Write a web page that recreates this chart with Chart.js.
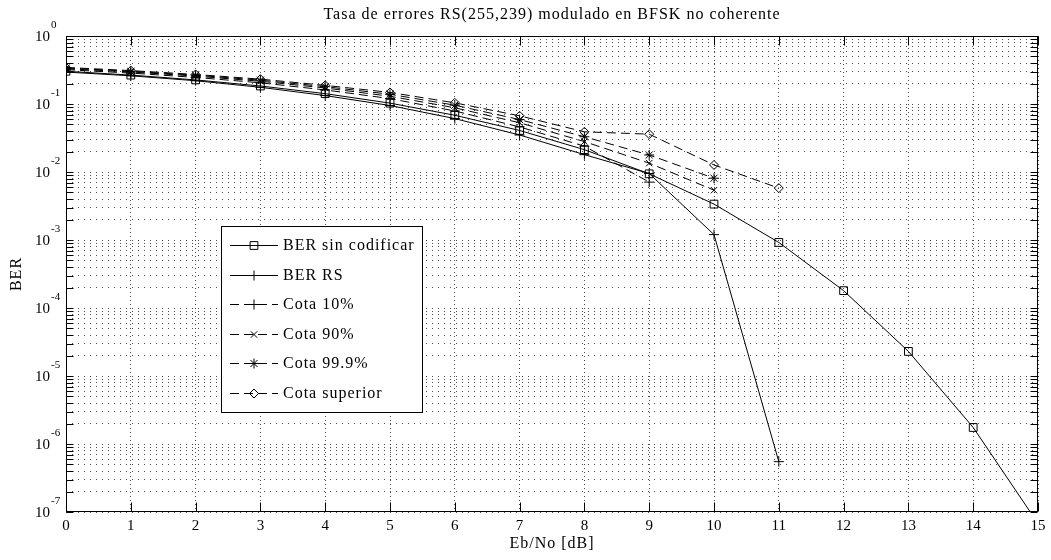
<!DOCTYPE html>
<html lang="es">
<head>
<meta charset="utf-8">
<title>Tasa de errores RS(255,239)</title>
<script src="https://cdn.jsdelivr.net/npm/chart.js@4.4.1/dist/chart.umd.min.js"></script>
<style>
  html, body { margin: 0; padding: 0; background: #fff; }
  canvas { display: block; }
</style>
</head>
<body>
<canvas id="berChart" width="1051" height="560"></canvas>
<script>
// Eb/No en dB
const ebNo = [0, 1, 2, 3, 4, 5, 6, 7, 8, 9, 10, 11, 12, 13, 14, 15];

// BER medida / acotada para cada Eb/No
const berSinCodificar = [0.303, 0.266, 0.226, 0.184, 0.142, 0.103, 0.0683, 0.0408, 0.0213, 0.0094, 0.00337, 0.00092, 0.00018, 2.3e-5, 1.75e-6, 6.8e-8];
const berRS = [0.295, 0.26, 0.22, 0.176, 0.133, 0.095, 0.061, 0.035, 0.018, 0.0095, 0.0012, 5.5e-7];
const cota10 = [0.32, 0.285, 0.246, 0.205, 0.161, 0.12, 0.079, 0.046, 0.024, 0.0071];
const cota90 = [0.33, 0.296, 0.257, 0.216, 0.172, 0.13, 0.088, 0.053, 0.028, 0.0135, 0.0054];
const cota999 = [0.338, 0.303, 0.265, 0.224, 0.18, 0.139, 0.096, 0.059, 0.033, 0.0178, 0.0081];
const cotaSuperior = [0.345, 0.31, 0.272, 0.232, 0.188, 0.148, 0.104, 0.067, 0.039, 0.036, 0.0127, 0.0058];

// marcas de los ejes
const xTicks = [0, 1, 2, 3, 4, 5, 6, 7, 8, 9, 10, 11, 12, 13, 14, 15];
const yDecadas = [1, 1e-1, 1e-2, 1e-3, 1e-4, 1e-5, 1e-6, 1e-7];
const yExponentes = ['0', '-1', '-2', '-3', '-4', '-5', '-6', '-7'];

const SERIF = "'Liberation Serif', 'Times New Roman', serif";
const DASH = [9, 5];

const series = [
  { label: 'BER sin codificar', valores: berSinCodificar, dash: [], marca: 'rect', radio: 5.5 },
  { label: 'BER RS', valores: berRS, dash: [], marca: 'cross', radio: 5 },
  { label: 'Cota 10%', valores: cota10, dash: DASH, marca: 'cross', radio: 5 },
  { label: 'Cota 90%', valores: cota90, dash: DASH, marca: 'crossRot', radio: 4.5 },
  { label: 'Cota 99.9%', valores: cota999, dash: DASH, marca: 'star', radio: 5 },
  { label: 'Cota superior', valores: cotaSuperior, dash: DASH, marca: 'rectRot', radio: 4.5 }
];

// rejilla menor: 2..9 dentro de cada década
const yTodas = [];
yDecadas.forEach(d => {
  yTodas.push(d);
  if (d > 1e-7) for (let k = 2; k <= 9; k++) yTodas.push(d * k / 10);
});

// marco, marcas interiores, textos y leyenda al estilo MATLAB
const marcoPlugin = {
  id: 'marco',
  afterDraw(chart) {
    const ctx = chart.ctx;
    const a = chart.chartArea;
    const sx = chart.scales.x;
    const sy = chart.scales.y;
    const L = Math.round(a.left) + 0.5, R = Math.round(a.right) - 0.5;
    const T = Math.round(a.top) + 0.5, B = Math.round(a.bottom) - 0.5;

    ctx.save();
    ctx.strokeStyle = '#000';
    ctx.lineWidth = 1;
    ctx.setLineDash([]);
    ctx.strokeRect(L, T, R - L, B - T);

    ctx.beginPath();
    xTicks.forEach(v => {
      const px = Math.round(sx.getPixelForValue(v)) + 0.5;
      ctx.moveTo(px, B); ctx.lineTo(px, B - 9);
      ctx.moveTo(px, T); ctx.lineTo(px, T + 9);
    });
    yTodas.forEach(v => {
      const py = Math.round(sy.getPixelForValue(v)) + 0.5;
      ctx.moveTo(L, py); ctx.lineTo(L + 7, py);
      ctx.moveTo(R, py); ctx.lineTo(R - 7, py);
    });
    ctx.stroke();

    // etiquetas 10^n
    ctx.fillStyle = '#000';
    yDecadas.forEach((d, i) => {
      const py = sy.getPixelForValue(d);
      ctx.font = '15px ' + SERIF;
      ctx.textAlign = 'right';
      ctx.textBaseline = 'middle';
      ctx.fillText('10', a.left - 16, py + 1);
      ctx.font = '11px ' + SERIF;
      ctx.textAlign = 'left';
      ctx.fillText(yExponentes[i], a.left - 15, py - 11);
    });

    // título y nombres de ejes
    ctx.letterSpacing = '1px';
    ctx.font = '16px ' + SERIF;
    ctx.textAlign = 'center';
    ctx.textBaseline = 'middle';
    const cx = (a.left + a.right) / 2;
    ctx.fillText('Tasa de errores RS(255,239) modulado en BFSK no coherente', cx, 15);
    ctx.fillText('Eb/No [dB]', cx, 544);
    ctx.save();
    ctx.translate(17, (a.top + a.bottom) / 2);
    ctx.rotate(-Math.PI / 2);
    ctx.fillText('BER', 0, 0);
    ctx.restore();

    // leyenda
    const lx = 221.5, ly = 226.5, lw = 201, lh = 186;
    ctx.fillStyle = '#fff';
    ctx.fillRect(lx, ly, lw, lh);
    ctx.strokeRect(lx, ly, lw, lh);
    ctx.textAlign = 'left';
    series.forEach((s, i) => {
      const ry = Math.round(245 + i * 29.6) + 0.5;
      ctx.strokeStyle = '#000';
      ctx.lineWidth = 1;
      ctx.setLineDash(s.dash);
      ctx.beginPath();
      ctx.moveTo(230, ry);
      ctx.lineTo(278, ry);
      ctx.stroke();
      ctx.setLineDash([]);
      ctx.fillStyle = 'rgba(0,0,0,0)';
      Chart.helpers.drawPoint(ctx, { pointStyle: s.marca, radius: s.radio, rotation: 0, borderWidth: 1 }, 254, ry);
      ctx.fillStyle = '#000';
      ctx.fillText(s.label, 283, ry);
    });
    ctx.restore();
  }
};

new Chart(document.getElementById('berChart'), {
  type: 'line',
  data: {
    datasets: series.map(s => ({
      label: s.label,
      data: s.valores.map((v, i) => ({ x: ebNo[i], y: v })),
      borderColor: '#000',
      borderWidth: 1,
      borderDash: s.dash,
      pointStyle: s.marca,
      pointRadius: s.radio,
      pointBorderColor: '#000',
      pointBackgroundColor: 'rgba(0,0,0,0)',
      pointBorderWidth: 1,
      tension: 0,
      fill: false
    }))
  },
  options: {
    responsive: false,
    devicePixelRatio: 1,
    animation: false,
    layout: { padding: { top: 36, right: 13, left: 0, bottom: 0 } },
    plugins: {
      legend: { display: false },
      title: { display: false },
      tooltip: { enabled: false }
    },
    scales: {
      x: {
        type: 'linear',
        min: 0,
        max: 15,
        afterBuildTicks: s => { s.ticks = xTicks.map(v => ({ value: v })); },
        afterFit: s => { s.height = 48; },
        grid: { color: 'rgba(0,0,0,0.7)', lineWidth: 1, drawTicks: false },
        border: { display: false, dash: [1, 3] },
        ticks: { color: '#000', font: { family: SERIF, size: 15 }, padding: 5, maxRotation: 0, autoSkip: false }
      },
      y: {
        type: 'logarithmic',
        min: 1e-7,
        max: 1,
        afterBuildTicks: s => { s.ticks = yTodas.map(v => ({ value: v })); },
        afterFit: s => { s.width = 66; },
        grid: { color: 'rgba(0,0,0,0.7)', lineWidth: 1, drawTicks: false },
        border: { display: false, dash: [1, 5] },
        ticks: { callback: () => '', autoSkip: false }
      }
    }
  },
  plugins: [marcoPlugin]
});
</script>
</body>
</html>
